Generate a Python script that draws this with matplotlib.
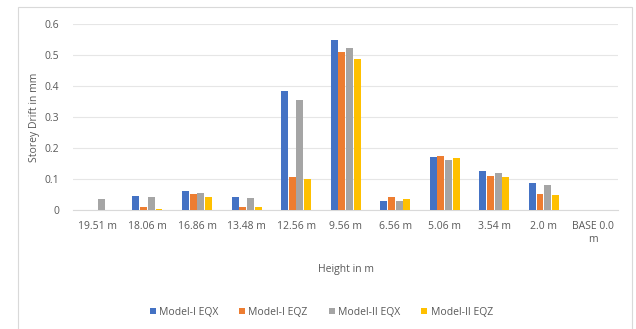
import matplotlib.pyplot as plt
import numpy as np
from matplotlib.patches import Rectangle

heights = ['19.51 m', '18.06 m', '16.86 m', '13.48 m', '12.56 m', '9.56 m',
           '6.56 m', '5.06 m', '3.54 m', '2.0 m', 'BASE 0.0\nm']
m1_eqx = [0.0, 0.046, 0.060, 0.043, 0.385, 0.550, 0.028, 0.171, 0.125, 0.087, 0.0]
m1_eqz = [0.0, 0.010, 0.050, 0.010, 0.107, 0.509, 0.042, 0.174, 0.109, 0.052, 0.0]
m2_eqx = [0.035, 0.043, 0.056, 0.040, 0.356, 0.524, 0.028, 0.162, 0.119, 0.081, 0.0]
m2_eqz = [0.0, 0.004, 0.043, 0.010, 0.101, 0.486, 0.036, 0.167, 0.105, 0.048, 0.0]

series = [('Model-I EQX', m1_eqx, '#4472C4'),
          ('Model-I EQZ', m1_eqz, '#ED7D31'),
          ('Model-II EQX', m2_eqx, '#A5A5A5'),
          ('Model-II EQZ', m2_eqz, '#FFC000')]

plt.rcParams['font.family'] = ['Open Sans', 'DejaVu Sans']
txt = '#595959'

fig = plt.figure(figsize=(6.36, 3.29), dpi=100)
fig.patches.append(Rectangle((18 / 636, -0.01), 614 / 636, 1 - 7 / 329 + 0.01,
                             transform=fig.transFigure, fill=False,
                             edgecolor='#D9D9D9', linewidth=0.8))
ax = fig.add_axes([0.115, 0.362, 0.857, 0.565])

x = np.arange(len(heights))
w = 0.155
for i, (name, vals, col) in enumerate(series):
    ax.bar(x + (i - 1.5) * w, vals, w * 0.9, color=col, label=name, zorder=3)

ax.set_xlim(-0.5, len(heights) - 0.5)
ax.set_ylim(0, 0.6)
ax.set_yticks(np.arange(0, 0.61, 0.1))
ax.set_yticklabels(['0', '0.1', '0.2', '0.3', '0.4', '0.5', '0.6'])
ax.set_xticks(x)
ax.set_xticklabels(heights, va='top')
ax.grid(axis='y', color='#E6E6E6', linewidth=0.8, zorder=0)
for s in ['top', 'right', 'left']:
    ax.spines[s].set_visible(False)
ax.spines['bottom'].set_color('#D9D9D9')
ax.tick_params(length=0, labelsize=7.5, colors=txt, pad=8)
ax.tick_params(axis='y', pad=10)

ax.set_xlabel('Height in m', fontsize=7.5, color=txt, labelpad=14)
ax.set_ylabel('Storey Drift in mm', fontsize=7.5, color=txt, labelpad=3)

ax.legend(loc='upper center', bbox_to_anchor=(0.455, -0.47), ncol=4, frameon=False,
          fontsize=7.5, labelcolor=txt, handlelength=0.6, handleheight=0.6,
          handletextpad=0.3, columnspacing=2.0)

plt.savefig('out.png', dpi=100)
